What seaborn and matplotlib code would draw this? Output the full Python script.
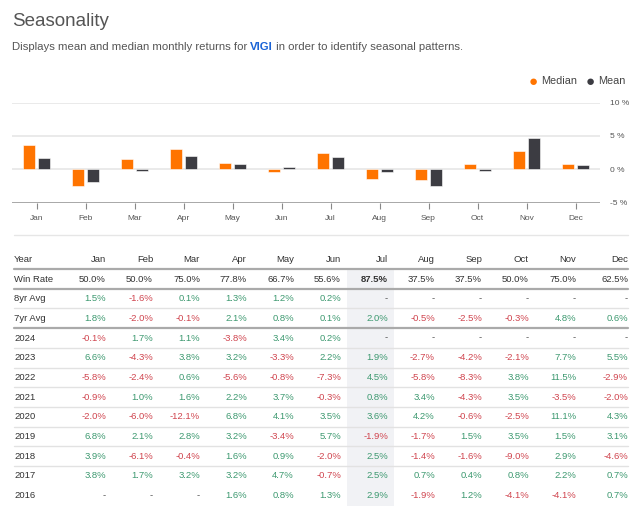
import matplotlib
matplotlib.use("Agg")
import matplotlib.pyplot as plt
import pandas as pd
import seaborn as sns

months = ["Jan", "Feb", "Mar", "Apr", "May", "Jun", "Jul", "Aug", "Sep", "Oct", "Nov", "Dec"]
median_vals = [3.6, -2.5, 1.5, 3.1, 0.95, -0.35, 2.45, -1.4, -1.6, 0.75, 2.8, 0.75]
mean_vals = [1.7, -1.95, -0.3, 2.0, 0.85, 0.3, 1.9, -0.45, -2.45, -0.3, 4.75, 0.65]

row_labels = ["Win Rate", "8yr Avg", "7yr Avg", "2024", "2023", "2022", "2021",
              "2020", "2019", "2018", "2017", "2016"]
win_rate = [50.0, 50.0, 75.0, 77.8, 66.7, 55.6, 87.5, 37.5, 37.5, 50.0, 75.0, 62.5]
avg_8yr = [1.5, -1.6, 0.1, 1.3, 1.2, 0.2, None, None, None, None, None, None]
avg_7yr = [1.8, -2.0, -0.1, 2.1, 0.8, 0.1, 2.0, -0.5, -2.5, -0.3, 4.8, 0.6]
y2024 = [-0.1, 1.7, 1.1, -3.8, 3.4, 0.2, None, None, None, None, None, None]
y2023 = [6.6, -4.3, 3.8, 3.2, -3.3, 2.2, 1.9, -2.7, -4.2, -2.1, 7.7, 5.5]
y2022 = [-5.8, -2.4, 0.6, -5.6, -0.8, -7.3, 4.5, -5.8, -8.3, 3.8, 11.5, -2.9]
y2021 = [-0.9, 1.0, 1.6, 2.2, 3.7, -0.3, 0.8, 3.4, -4.3, 3.5, -3.5, -2.0]
y2020 = [-2.0, -6.0, -12.1, 6.8, 4.1, 3.5, 3.6, 4.2, -0.6, -2.5, 11.1, 4.3]
y2019 = [6.8, 2.1, 2.8, 3.2, -3.4, 5.7, -1.9, -1.7, 1.5, 3.5, 1.5, 3.1]
y2018 = [3.9, -6.1, -0.4, 1.6, 0.9, -2.0, 2.5, -1.4, -1.6, -9.0, 2.9, -4.6]
y2017 = [3.8, 1.7, 3.2, 3.2, 4.7, -0.7, 2.5, 0.7, 0.4, 0.8, 2.2, 0.7]
y2016 = [None, None, None, 1.6, 0.8, 1.3, 2.9, -1.9, 1.2, -4.1, -4.1, 0.7]
return_rows = [avg_8yr, avg_7yr, y2024, y2023, y2022, y2021, y2020, y2019, y2018, y2017, y2016]

ORANGE = "#ff7400"
DARK = "#3c3c42"
GREEN = "#3d9970"
RED = "#d0454f"
TXT = "#333333"

sns.set_style("white")
plt.rcParams["font.family"] = ["Liberation Sans", "DejaVu Sans"]

W, H = 640, 516
fig = plt.figure(figsize=(6.4, 5.16), dpi=100)

def px(x0, y0, x1, y1):
    return [x0 / W, 1 - y1 / H, (x1 - x0) / W, (y1 - y0) / H]

# header text
fig.text(12 / W, 1 - 22 / H, "Seasonality", fontsize=13.5, color="#555555", va="center")

renderer = fig.canvas.get_renderer()
xpos = 12
for part, col, wt in [("Displays mean and median monthly returns for ", "#555555", "normal"),
                      ("VIGI", "#1a63d6", "bold"),
                      (" in order to identify seasonal patterns.", "#555555", "normal")]:
    t = fig.text(xpos / W, 1 - 47 / H, part, fontsize=8.2, color=col, fontweight=wt, va="center")
    xpos += t.get_window_extent(renderer).width

# bar chart
df = pd.DataFrame({
    "month": months * 2,
    "value": median_vals + mean_vals,
    "series": ["Median"] * 12 + ["Mean"] * 12,
})
ax = fig.add_axes(px(12, 102.7, 600, 202.5))
sns.barplot(data=df, x="month", y="value", hue="series", palette=[ORANGE, DARK],
            width=0.6, gap=0.22, ax=ax, legend=False, saturation=1,
            edgecolor="white", linewidth=0.4)
ax.set_ylim(-5, 10)
ax.set_xlim(-0.5, 11.5)
ax.set_yticks([-5, 0, 5, 10])
ax.set_yticklabels(["-5 %", "0 %", "5 %", "10 %"])
ax.yaxis.tick_right()
ax.tick_params(axis="y", length=0, labelsize=6, colors="#555555", pad=7)
ax.tick_params(axis="x", length=4, width=0.8, color="#888888", labelsize=6,
               labelcolor="#555555", pad=5, bottom=True, direction="out")
for v in [0, 5, 10]:
    ax.axhline(v, color="#e6e6e6", lw=1.2, zorder=0)
ax.axhline(-5, color="#999999", lw=1.2, zorder=0)
for s in ax.spines.values():
    s.set_visible(False)
ax.set_xlabel("")
ax.set_ylabel("")

# legend
fig.text(533 / W, 1 - 81.5 / H, "\u25cf", color=ORANGE, fontsize=11, ha="center", va="center")
fig.text(541 / W, 1 - 81 / H, "Median", color="#444444", fontsize=7.8, va="center")
fig.text(590 / W, 1 - 81.5 / H, "\u25cf", color=DARK, fontsize=11, ha="center", va="center")
fig.text(598 / W, 1 - 81 / H, "Mean", color="#444444", fontsize=7.8, va="center")

# table
tax = fig.add_axes([0, 0, 1, 1])
tax.set_xlim(0, W)
tax.set_ylim(H, 0)
tax.axis("off")

col_right = [106, 153, 200, 247, 294, 341, 388, 435, 482, 529, 576, 628]
tax.plot([14, 628], [235, 235], color="#e6e6e6", lw=1)
tax.add_patch(plt.Rectangle((347, 270), 47, 236, color="#f1f2f5", lw=0, zorder=0))

fs = 6.8
y_head = 259
tax.text(14, y_head, "Year", fontsize=fs, color=TXT, va="center")
for m, x in zip(months, col_right):
    tax.text(x, y_head, m, fontsize=fs, color=TXT, va="center", ha="right")

pitch = 19.7
y0 = 279
tax.text(14, y0, "Win Rate", fontsize=fs, color=TXT, va="center")
for i, (v, x) in enumerate(zip(win_rate, col_right)):
    tax.text(x, y0, f"{v:.1f}%", fontsize=fs, color=TXT, va="center", ha="right",
             fontweight="bold" if i == 6 else "normal")

for r, (lab, vals) in enumerate(zip(row_labels[1:], return_rows)):
    y = y0 + pitch * (r + 1)
    tax.text(14, y, lab, fontsize=fs, color=TXT, va="center")
    for v, x in zip(vals, col_right):
        if v is None:
            tax.text(x, y, "-", fontsize=fs, color="#555555", va="center", ha="right")
        else:
            tax.text(x, y, f"{v:.1f}%", fontsize=fs, va="center", ha="right",
                     color=GREEN if v >= 0 else RED)

# row separators
for k in range(12):
    y = y_head + 10 + pitch * k
    if k in (0, 1, 3):
        tax.plot([14, 628], [y, y], color="#aaaaaa", lw=1.6, zorder=1)
    elif k < 11:
        tax.plot([14, 628], [y, y], color="#e2e2e2", lw=1, zorder=1)

fig.savefig("out.png", dpi=100, facecolor="white")
